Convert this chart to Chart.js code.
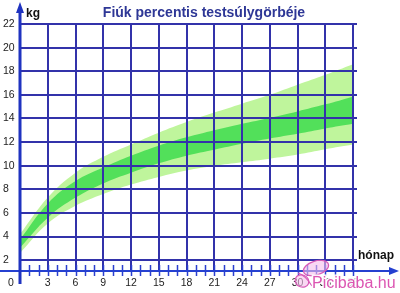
<!DOCTYPE html>
<html><head><meta charset="utf-8">
<script src="https://cdn.jsdelivr.net/npm/chart.js@4"></script>
<style>html,body{margin:0;padding:0;background:#fff;overflow:hidden}</style>
</head><body>
<canvas id="c" width="400" height="293"></canvas>
<script>
// ---- data ----
const months = [0, 3, 6, 9, 12, 15, 18, 21, 24, 27, 30, 33, 36];
const pTop    = [4.2, 7.3, 9.4, 10.75, 11.8, 12.8, 13.7, 14.5, 15.25, 16.0, 16.85, 17.7, 18.6];
const pUpper  = [3.75, 6.8, 8.7, 9.85, 10.85, 11.7, 12.4, 13.0, 13.55, 14.05, 14.6, 15.2, 15.85];
const pLower  = [3.05, 5.6, 7.3, 8.5, 9.4, 10.2, 10.85, 11.35, 11.85, 12.3, 12.7, 13.15, 13.55];
const pBottom = [2.6, 5.1, 6.6, 7.6, 8.4, 9.05, 9.6, 10.0, 10.3, 10.6, 10.95, 11.4, 11.8];
const yTickLabels = [2, 4, 6, 8, 10, 12, 14, 16, 18, 20, 22];
const xTickLabels = [0, 3, 6, 9, 12, 15, 18, 21, 24, 27, 30, 33, 36];
const titleText = 'Fiúk percentis testsúlygörbéje';
const yAxisTitle = 'kg';
const xAxisTitle = 'hónap';
const watermark = 'Picibaba.hu';

const pts = arr => months.map((m, i) => ({x: m, y: arr[i]}));
const LIGHT = '#bff59c';
const DARK = '#52e05a';

const overlay = {
  id: 'overlay',
  afterDatasetsDraw(chart) {
    const ctx = chart.ctx;
    const xs = chart.scales.x, ys = chart.scales.y;
    const x0 = xs.getPixelForValue(0);
    const xEnd = xs.getPixelForValue(36);
    const yTop = ys.getPixelForValue(22);
    const yAxis = ys.getPixelForValue(1) - 1;
    ctx.save();
    // grid
    ctx.strokeStyle = '#3232aa';
    ctx.lineWidth = 2;
    yTickLabels.forEach(v => {
      const y = Math.round(ys.getPixelForValue(v));
      ctx.beginPath(); ctx.moveTo(x0, y); ctx.lineTo(xEnd + 4, y); ctx.stroke();
    });
    xTickLabels.forEach(v => {
      if (v === 0) return;
      const x = Math.round(xs.getPixelForValue(v));
      ctx.beginPath(); ctx.moveTo(x, yTop - 1); ctx.lineTo(x, yAxis); ctx.stroke();
    });
    // minor ticks on x axis
    ctx.strokeStyle = '#2a3fcf';
    ctx.lineWidth = 1.5;
    for (let m = xs.min + 1; m <= xs.max; m++) {
      const x = Math.round(xs.getPixelForValue(m)) + 0.5;
      ctx.beginPath(); ctx.moveTo(x, yAxis - 6); ctx.lineTo(x, yAxis + 5); ctx.stroke();
    }
    // x axis line + arrow
    ctx.strokeStyle = '#2540d0';
    ctx.fillStyle = '#2540d0';
    ctx.lineWidth = 2;
    ctx.beginPath(); ctx.moveTo(0, yAxis); ctx.lineTo(392, yAxis); ctx.stroke();
    ctx.beginPath(); ctx.moveTo(399, yAxis); ctx.lineTo(389, yAxis - 4); ctx.lineTo(389, yAxis + 4); ctx.closePath(); ctx.fill();
    // y axis line + arrow
    ctx.strokeStyle = '#1f33c0';
    ctx.fillStyle = '#1f33c0';
    ctx.lineWidth = 3;
    ctx.beginPath(); ctx.moveTo(x0, 284); ctx.lineTo(x0, 10); ctx.stroke();
    ctx.beginPath(); ctx.moveTo(x0, 2); ctx.lineTo(x0 - 4, 13); ctx.lineTo(x0 + 4, 13); ctx.closePath(); ctx.fill();
    // y tick labels
    ctx.fillStyle = '#222';
    ctx.font = '10.5px "Liberation Sans", Arial, sans-serif';
    ctx.textAlign = 'left';
    ctx.textBaseline = 'middle';
    yTickLabels.forEach(v => {
      ctx.fillText(String(v), 3, ys.getPixelForValue(v));
    });
    // x tick labels
    ctx.textAlign = 'center';
    xTickLabels.forEach(v => {
      let x = xs.getPixelForValue(v);
      if (v === 0) x = 11;
      ctx.fillText(String(v), x, 283);
    });
    // axis titles
    ctx.fillStyle = '#111';
    ctx.font = 'bold 12px "Liberation Sans", Arial, sans-serif';
    ctx.textAlign = 'left';
    ctx.fillText(yAxisTitle, 26, 14);
    ctx.fillText(xAxisTitle, 358, 256);
    // title
    ctx.fillStyle = '#2e3796';
    ctx.font = 'bold 14px "Liberation Sans", Arial, sans-serif';
    ctx.textAlign = 'center';
    ctx.fillText(titleText, 204, 13);
    // watermark butterfly
    ctx.strokeStyle = '#d85bb8';
    ctx.lineWidth = 1.2;
    ctx.fillStyle = 'rgba(245,190,235,0.6)';
    ctx.beginPath(); ctx.ellipse(316, 268, 13, 7, -0.3, 0, Math.PI * 2); ctx.fill(); ctx.stroke();
    ctx.beginPath(); ctx.ellipse(302, 281, 7, 6, 0.4, 0, Math.PI * 2); ctx.fill(); ctx.stroke();
    ctx.beginPath(); ctx.moveTo(298, 273); ctx.quadraticCurveTo(305, 275, 312, 286); ctx.stroke();
    // watermark text
    ctx.font = '16px "Liberation Sans", Arial, sans-serif';
    ctx.textAlign = 'left';
    ctx.lineWidth = 3;
    ctx.strokeStyle = 'rgba(255,255,255,0.9)';
    ctx.strokeText(watermark, 312, 284);
    ctx.fillStyle = '#dc55b2';
    ctx.fillText(watermark, 312, 284);
    ctx.restore();
  }
};

new Chart(document.getElementById('c'), {
  type: 'line',
  data: {
    datasets: [
      {label: 'bottom', data: pts(pBottom), fill: false, order: 2, borderWidth: 0, borderColor: 'rgba(0,0,0,0)'},
      {label: 'top', data: pts(pTop), fill: '-1', backgroundColor: LIGHT, order: 2, borderWidth: 0, borderColor: 'rgba(0,0,0,0)'},
      {label: 'lower', data: pts(pLower), fill: false, order: 1, borderWidth: 0, borderColor: 'rgba(0,0,0,0)'},
      {label: 'upper', data: pts(pUpper), fill: '-1', backgroundColor: DARK, order: 1, borderWidth: 0, borderColor: 'rgba(0,0,0,0)'}
    ]
  },
  options: {
    responsive: false,
    animation: false,
    layout: {padding: {left: 20, right: 47, top: 24, bottom: 21}},
    elements: {point: {radius: 0}, line: {tension: 0.4}},
    scales: {
      x: {type: 'linear', min: 0, max: 36, display: false},
      y: {type: 'linear', min: 1, max: 22, display: false}
    },
    plugins: {legend: {display: false}, tooltip: {enabled: false}, title: {display: false}}
  },
  plugins: [overlay]
});
</script>
</body></html>
